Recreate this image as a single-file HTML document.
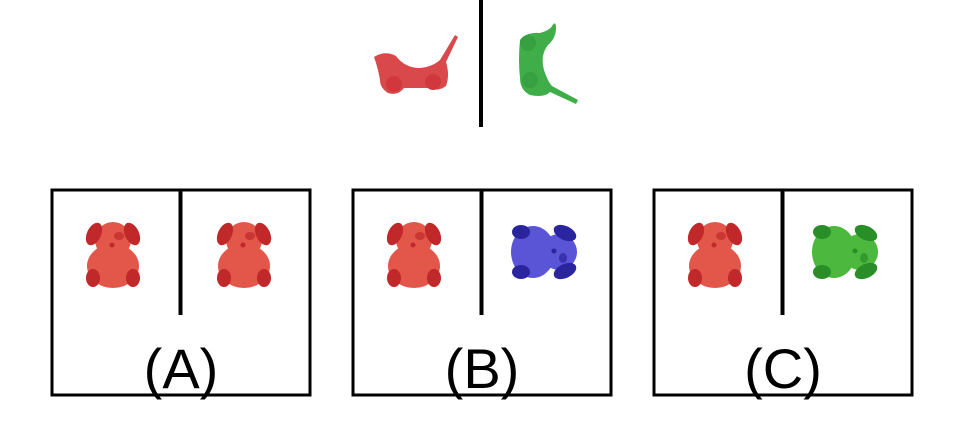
<!DOCTYPE html>
<html><head><meta charset="utf-8"><style>
html,body{margin:0;padding:0;background:#fff;width:963px;height:446px;overflow:hidden}
svg{display:block}
text{font-family:"Liberation Sans",sans-serif}
</style></head><body>
<svg width="963" height="446" viewBox="0 0 963 446">
<defs>
<g id="bear">
  <ellipse cx="0" cy="12" rx="26" ry="22" fill="var(--c)"/>
  <circle cx="0" cy="-14" r="18" fill="var(--c)"/>
  <ellipse cx="-19" cy="-20" rx="7" ry="12" transform="rotate(25 -19 -20)" fill="var(--d)"/>
  <ellipse cx="19" cy="-20" rx="7" ry="12" transform="rotate(-25 19 -20)" fill="var(--d)"/>
  <ellipse cx="6" cy="-18" rx="5" ry="4" fill="var(--d)" opacity="0.7"/>
  <circle cx="-1" cy="-9" r="2.5" fill="var(--d)"/>
  <ellipse cx="-20" cy="24" rx="7" ry="9" fill="var(--d)"/>
  <ellipse cx="20" cy="24" rx="7" ry="9" fill="var(--d)"/>
</g>
</defs>
<g>
  <path d="M374,57 Q385,50 396,56 Q405,68 420,68 Q432,67 440,60 L455,35 L458,37 L446,62 Q450,75 446,86 Q438,92 430,88 L404,88 Q398,96 388,93 Q380,88 380,80 Q378,68 374,57 Z" fill="#d9484a"/>
  <circle cx="394" cy="84" r="8" fill="#d0383e"/><circle cx="433" cy="82" r="8" fill="#d0383e"/>
  <rect x="479" y="0" width="4" height="127" fill="#000"/>
  <path d="M520,40 Q526,32 540,33 Q550,30 552,26 Q556,20 556,28 Q556,38 548,45 Q540,55 544,70 Q548,82 552,86 L578,100 L576,104 L550,92 Q544,98 530,95 Q520,90 520,78 Q518,60 520,40 Z" fill="#3fae48"/>
  <circle cx="528" cy="43" r="8" fill="#37a040"/><circle cx="530" cy="80" r="8" fill="#37a040"/>
</g>
<g>
  <rect x="52" y="190" width="258" height="205" fill="none" stroke="#000" stroke-width="3"/>
  <rect x="178.5" y="190" width="4" height="125" fill="#000"/>
  <use href="#bear" x="113" y="254" style="--c:#e2574a;--d:#c0282a"/>
  <use href="#bear" x="244" y="254" style="--c:#e2574a;--d:#c0282a"/>
  <text x="181" y="388" font-size="56" text-anchor="middle">(A)</text>
</g>
<g>
  <rect x="353" y="190" width="258" height="205" fill="none" stroke="#000" stroke-width="3"/>
  <rect x="479.5" y="190" width="4" height="125" fill="#000"/>
  <use href="#bear" x="414" y="254" style="--c:#e2574a;--d:#c0282a"/>
  <use href="#bear" transform="translate(545 252) rotate(90)" style="--c:#5a55d6;--d:#2a249e"/>
  <text x="482" y="388" font-size="56" text-anchor="middle">(B)</text>
</g>
<g>
  <rect x="654" y="190" width="258" height="205" fill="none" stroke="#000" stroke-width="3"/>
  <rect x="780.5" y="190" width="4" height="125" fill="#000"/>
  <use href="#bear" x="715" y="254" style="--c:#e2574a;--d:#c0282a"/>
  <use href="#bear" transform="translate(846 252) rotate(90)" style="--c:#4cb83e;--d:#2a8e28"/>
  <text x="783" y="388" font-size="56" text-anchor="middle">(C)</text>
</g>
</svg>
</body></html>
